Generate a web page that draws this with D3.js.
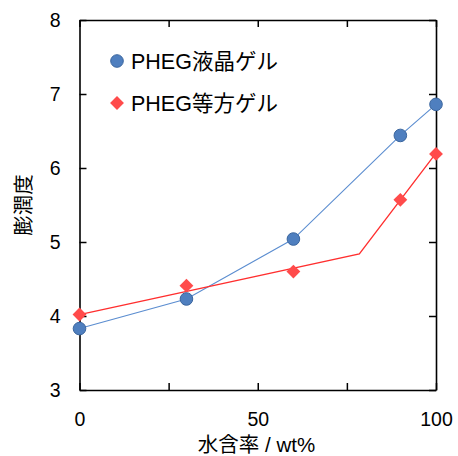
<!DOCTYPE html>
<html><head><meta charset="utf-8">
<script src="https://cdn.jsdelivr.net/npm/d3@7/dist/d3.min.js"></script>
<style>
body{margin:0;background:#fff;}
text{font-family:"Liberation Sans",Arial,"Noto Sans CJK JP",sans-serif;fill:#000;}
</style></head>
<body><svg id="c" width="458" height="456"></svg>
<script>
// Data
const waterContent = [0, 30, 60, 90, 100];
const lcGel = [3.83, 4.23, 5.04, 6.44, 6.86];        // PHEG液晶ゲル (circles, line through points)
const isoGel = [4.02, 4.41, 4.60, 5.57, 6.19];       // PHEG等方ゲル (diamonds)
const isoLineX = [0, 78.5, 100];                      // 等方ゲル trend line
const isoLineY = [4.02, 4.84, 6.20];
const xTicks = [0, 25, 50, 75, 100];
const xLabels = [0, 50, 100];
const yTicks = [3, 4, 5, 6, 7, 8];
const seriesNames = ["PHEG液晶ゲル", "PHEG等方ゲル"];

const svg = d3.select("#c");
const L = 79.5, R = 436, T = 20, B = 390;
const x = d3.scaleLinear().domain([0, 100]).range([L, R]);
const y = d3.scaleLinear().domain([3, 8]).range([B, T]);

// lines
const lineGen = d3.line().x(d => x(d[0])).y(d => y(d[1]));
svg.append("path").attr("d", lineGen(waterContent.map((v, i) => [v, lcGel[i]])))
  .attr("fill", "none").attr("stroke", "#5B8DD0").attr("stroke-width", 1.1);
svg.append("path").attr("d", lineGen(isoLineX.map((v, i) => [v, isoLineY[i]])))
  .attr("fill", "none").attr("stroke", "#FF2E2E").attr("stroke-width", 1.3);

// axes frame
const tickLen = 7;
const gx = svg.append("g").attr("transform", `translate(0,${B})`)
  .call(d3.axisBottom(x).tickValues(xTicks).tickSizeInner(-tickLen).tickSizeOuter(0)
    .tickFormat(d => xLabels.includes(d) ? d : "").tickPadding(22));
const gxt = svg.append("g").attr("transform", `translate(0,${T})`)
  .call(d3.axisTop(x).tickValues(xTicks).tickSizeInner(-tickLen).tickSizeOuter(0).tickFormat(""));
const gy = svg.append("g").attr("transform", `translate(${L},0)`)
  .call(d3.axisLeft(y).tickValues(yTicks).tickSizeInner(-tickLen).tickSizeOuter(0)
    .tickFormat(d3.format("d")).tickPadding(19));
const gyr = svg.append("g").attr("transform", `translate(${R},0)`)
  .call(d3.axisRight(y).tickValues(yTicks).tickSizeInner(-tickLen).tickSizeOuter(0).tickFormat(""));
[gx, gxt, gy, gyr].forEach(g => {
  g.selectAll(".domain").attr("stroke", "#000").attr("stroke-width", 1.6);
  g.selectAll(".tick line").attr("stroke", "#000").attr("stroke-width", 1.5);
  g.selectAll("text").style("font-size", "19.5px").attr("fill", "#000");
});
gx.selectAll(".tick text").attr("dy", "0.71em");

// markers
const diamond = d3.symbol().type(d3.symbolSquare).size(96);
svg.append("g").selectAll("path").data(waterContent).join("path")
  .attr("d", diamond())
  .attr("transform", (d, i) => `translate(${x(d)},${y(isoGel[i])}) rotate(45)`)
  .attr("fill", "#FF4B4B");
svg.append("g").selectAll("circle").data(waterContent).join("circle")
  .attr("cx", d => x(d)).attr("cy", (d, i) => y(lcGel[i])).attr("r", 6.3)
  .attr("fill", "#4F7FBF").attr("stroke", "#3B669E").attr("stroke-width", 1);

// legend
svg.append("circle").attr("cx", 117).attr("cy", 61).attr("r", 6.3)
  .attr("fill", "#4F7FBF").attr("stroke", "#3B669E").attr("stroke-width", 1);
svg.append("path").attr("d", diamond()).attr("transform", "translate(117,103) rotate(45)").attr("fill", "#FF4B4B");
svg.append("text").attr("x", 131).attr("y", 68.5).style("font-size", "21.5px").text(seriesNames[0]);
svg.append("text").attr("x", 131).attr("y", 110.5).style("font-size", "21.5px").text(seriesNames[1]);

// axis titles
svg.append("text").attr("x", 256.5).attr("y", 452).attr("text-anchor", "middle")
  .style("font-size", "20.5px").text("水含率 / wt%");
svg.append("text").attr("transform", `translate(31,${(T + B) / 2}) rotate(-90)`)
  .attr("text-anchor", "middle").style("font-size", "20.5px").text("膨潤度");
</script></body></html>
